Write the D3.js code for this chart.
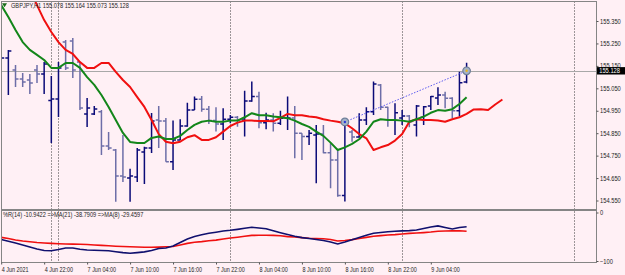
<!DOCTYPE html>
<html>
<head>
<meta charset="utf-8">
<script src="https://cdn.jsdelivr.net/npm/d3@7"></script>
<style>
  html, body { margin: 0; padding: 0; background: #fff0f5; }
  svg { display: block; font-family: "Liberation Sans", Arial, sans-serif; }
</style>
</head>
<body>
<svg id="chart" width="625" height="275"></svg>
<script>
var svgWidth = 625;
var svgHeight = 275;

// GBPJPY H1 bars, 4 Jun 16:00 .. 9 Jun 09:00
var barOpen = [155.052,155.185,155.132,155.092,155.087,155.132,155.114,154.996,155.002,155.256,
  155.261,155.167,154.936,154.936,154.945,154.793,154.775,154.659,154.650,154.655,
  154.766,154.784,154.909,154.904,154.723,154.820,154.882,154.953,155.001,154.957,
  154.906,154.891,154.912,154.921,154.909,154.994,155.013,154.897,154.909,154.894,
  154.917,154.918,154.850,154.835,154.842,154.846,154.763,154.731,154.572,154.855,
  154.833,154.909,154.946,155.065,154.966,154.909,154.918,154.927,154.887,154.921,
  154.971,155.007,155.020,155.006,154.950,155.078];
var barHigh = [155.421,155.221,155.154,155.118,155.114,155.154,155.167,155.105,155.167,155.265,
  155.274,155.167,155.007,154.971,154.953,154.855,154.780,154.842,154.691,154.784,
  154.789,154.940,154.971,154.918,154.906,154.912,154.986,155.013,155.016,154.971,
  154.966,154.961,154.931,154.927,155.039,155.080,155.035,154.941,154.939,154.950,
  155.013,154.971,154.850,154.864,154.887,154.887,154.805,154.775,154.909,154.864,
  154.939,154.966,155.080,155.069,154.968,154.983,154.953,154.931,154.976,154.971,
  155.016,155.055,155.035,155.010,155.124,155.164];
var barLow = [155.020,155.020,155.056,155.056,155.025,155.074,155.025,154.806,154.922,155.132,
  155.096,154.953,154.878,154.931,154.753,154.775,154.544,154.633,154.544,154.633,
  154.624,154.762,154.784,154.723,154.686,154.820,154.879,154.953,154.946,154.891,
  154.857,154.820,154.894,154.879,154.835,154.990,154.872,154.867,154.857,154.887,
  154.864,154.738,154.731,154.797,154.627,154.761,154.605,154.567,154.545,154.812,
  154.830,154.887,154.931,154.953,154.879,154.842,154.887,154.876,154.835,154.887,
  154.953,154.976,154.961,154.917,154.924,155.073];
var barClose = [155.185,155.216,155.092,155.078,155.074,155.114,155.158,155.002,155.141,155.141,
  155.132,154.962,154.962,154.958,154.793,154.784,154.659,154.655,154.659,154.775,
  154.784,154.904,154.904,154.723,154.820,154.882,154.953,155.001,154.957,154.906,
  154.891,154.912,154.921,154.909,154.994,155.013,154.897,154.909,154.894,154.917,
  154.918,154.850,154.835,154.850,154.846,154.763,154.731,154.572,154.901,154.833,
  154.909,154.946,155.069,154.966,154.909,154.941,154.927,154.901,154.971,154.968,
  155.013,155.020,155.006,154.950,155.075,155.128];

// moving averages on the price pane (red one is drawn shifted forward)
var maGreen = [155.421,155.368,155.310,155.256,155.221,155.199,155.176,155.141,155.141,155.163,
  155.163,155.141,155.100,155.065,155.020,154.967,154.909,154.851,154.811,154.806,
  154.806,154.829,154.835,154.824,154.824,154.838,154.864,154.887,154.901,154.906,
  154.901,154.901,154.906,154.906,154.921,154.939,154.930,154.930,154.924,154.921,
  154.917,154.906,154.891,154.878,154.857,154.838,154.808,154.775,154.787,154.802,
  154.823,154.857,154.901,154.912,154.909,154.909,154.906,154.901,154.912,154.924,
  154.941,154.953,154.950,154.957,154.980,155.010];
var maRed = [null,null,null,null,155.488,155.421,155.354,155.301,155.256,155.221,
  155.203,155.167,155.141,155.141,155.163,155.163,155.123,155.087,155.056,155.011,
  154.967,154.909,154.846,154.812,154.805,154.812,154.832,154.841,154.820,154.820,
  154.832,154.857,154.882,154.897,154.906,154.906,154.904,154.904,154.903,154.918,
  154.936,154.930,154.930,154.924,154.921,154.912,154.906,154.901,154.894,154.872,
  154.846,154.827,154.775,154.787,154.797,154.817,154.846,154.901,154.912,154.909,
  154.909,154.907,154.901,154.912,154.921,154.936,154.956,154.957,154.953,154.978,
  155.000];

// %R(14) smoothed, sub window
var wprMa8 = [-55.7,-59.4,-62.9,-67.0,-71.1,-75.3,-78.4,-78.8,-76.3,-73.2,
  -73.2,-75.9,-77.3,-77.9,-78.4,-79.0,-80.8,-82.7,-84.1,-82.7,
  -81.2,-78.4,-74.2,-73.2,-69.1,-61.9,-54.6,-49.5,-46.0,-42.9,
  -40.6,-38.1,-36.7,-34.8,-32.6,-30.5,-32.0,-33.4,-37.7,-41.7,
  -45.4,-49.1,-51.8,-53.6,-55.7,-57.7,-60.8,-65.0,-60.8,-56.1,
  -51.6,-47.0,-42.9,-41.2,-39.8,-38.8,-37.9,-37.3,-36.1,-33.0,
  -29.9,-27.6,-30.9,-34.0,-30.9,-29.46];
var wprMa21 = [-51.3,-53.6,-56.7,-58.8,-60.4,-61.9,-62.9,-63.7,-64.3,-65.0,
  -65.2,-65.4,-66.0,-67.0,-67.8,-68.7,-69.5,-70.1,-70.5,-71.1,
  -71.6,-71.8,-71.3,-70.7,-70.1,-67.0,-63.7,-61.2,-60.0,-58.4,
  -56.9,-54.6,-52.6,-50.9,-49.1,-47.2,-47.0,-47.0,-47.2,-48.0,
  -49.7,-50.5,-51.8,-53.0,-53.6,-54.2,-55.7,-58.8,-57.7,-55.9,
  -53.6,-51.3,-49.1,-47.6,-46.4,-45.6,-44.3,-43.1,-42.3,-41.4,
  -40.2,-38.6,-38.1,-37.9,-37.7,-38.79];

var priceTicks = [154.55,154.65,154.75,154.85,154.95,155.05,155.15,155.25,155.35];
var wprTicks = [0, -100];
var timeLabels = ["4 Jun 2021","4 Jun 22:00","7 Jun 04:00","7 Jun 10:00","7 Jun 16:00","7 Jun 22:00",
  "8 Jun 04:00","8 Jun 10:00","8 Jun 16:00","8 Jun 22:00","9 Jun 04:00"];
var timeLabelBars = [0,6,12,18,24,30,36,42,48,54,60];
var separatorBars = [7,8,32,56,80];
var bidPrice = 155.128;
var tradeMarks = [{bar: 48, price: 154.900}, {bar: 65, price: 155.128}];
var titleText = "GBPJPY,H1 155.078 155.164 155.073 155.128";
var subTitleText = "%R(14) -10.9422 =>MA(21) -38.7909 =>MA(8) -29.4597";

var pane = {left: 1.5, right: 596.5, top: 1.5, mainBottom: 209.5, subTop: 210.5, subBottom: 262.5};
var textColor = "#1e1e1e";
var fontSize = 6.4;

var svg = d3.select("#chart");
svg.append("rect").attr("width", svgWidth).attr("height", svgHeight).attr("fill", "#fff0f5");

var x = d3.scaleLinear().domain([0, 80]).range([1.2, 574]);
var y = d3.scaleLinear().domain([154.55, 155.35]).range([200.5, 21]);
var yInd = d3.scaleLinear().domain([-100, 0]).range([261, 212.5]);

// squeeze text a bit, the terminal font is narrower
function squeeze(sel, k) {
  sel.each(function() {
    var w = this.getComputedTextLength();
    d3.select(this).attr("textLength", w * k).attr("lengthAdjust", "spacingAndGlyphs");
  });
}

var defs = svg.append("defs");
defs.append("clipPath").attr("id", "clipMain").append("rect")
  .attr("x", pane.left).attr("y", pane.top)
  .attr("width", pane.right - pane.left).attr("height", pane.mainBottom - pane.top);
defs.append("clipPath").attr("id", "clipSub").append("rect")
  .attr("x", pane.left).attr("y", pane.subTop)
  .attr("width", pane.right - pane.left).attr("height", pane.subBottom - pane.subTop);

// day separators
svg.append("g").selectAll("line")
  .data(separatorBars)
  .enter().append("line")
  .attr("x1", d => Math.round(x(d)) + 0.5)
  .attr("x2", d => Math.round(x(d)) + 0.5)
  .attr("y1", pane.top)
  .attr("y2", pane.subBottom)
  .attr("stroke", "#3a3a3a")
  .attr("stroke-width", 1)
  .attr("stroke-dasharray", "1,2");

// bid line
svg.append("line")
  .attr("x1", pane.left).attr("x2", pane.right)
  .attr("y1", Math.round(y(bidPrice)) + 0.5).attr("y2", Math.round(y(bidPrice)) + 0.5)
  .attr("stroke", "#a8a8a8").attr("stroke-width", 1);

var mainGroup = svg.append("g").attr("clip-path", "url(#clipMain)");

// OHLC bars
var bars = mainGroup.selectAll(".bar")
  .data(d3.range(barOpen.length))
  .enter().append("g")
  .attr("class", "bar")
  .attr("stroke", i => barClose[i] >= barOpen[i] ? "#0b0b78" : "#6d6ea8")
  .attr("stroke-width", 1.5);

bars.append("line")
  .attr("x1", i => x(i)).attr("x2", i => x(i))
  .attr("y1", i => y(barHigh[i])).attr("y2", i => y(barLow[i]));
bars.append("line")
  .attr("x1", i => x(i) - 3).attr("x2", i => x(i))
  .attr("y1", i => y(barOpen[i])).attr("y2", i => y(barOpen[i]));
bars.append("line")
  .attr("x1", i => x(i)).attr("x2", i => x(i) + 3)
  .attr("y1", i => y(barClose[i])).attr("y2", i => y(barClose[i]));

var maLine = d3.line()
  .defined(d => d != null)
  .x((d, i) => x(i))
  .y(d => y(d));

mainGroup.append("path")
  .attr("d", maLine(maRed))
  .attr("fill", "none")
  .attr("stroke", "#f01010")
  .attr("stroke-width", 2)
  .attr("stroke-linejoin", "round");

mainGroup.append("path")
  .attr("d", maLine(maGreen))
  .attr("fill", "none")
  .attr("stroke", "#13861a")
  .attr("stroke-width", 2)
  .attr("stroke-linejoin", "round");

// trend line between the two marks
mainGroup.append("line")
  .attr("x1", x(tradeMarks[0].bar)).attr("y1", y(tradeMarks[0].price))
  .attr("x2", x(tradeMarks[1].bar)).attr("y2", y(tradeMarks[1].price))
  .attr("stroke", "#5a5af0")
  .attr("stroke-width", 1)
  .attr("stroke-dasharray", "1.5,1.5");

var marks = mainGroup.selectAll(".mark")
  .data(tradeMarks)
  .enter().append("g")
  .attr("transform", d => `translate(${x(d.bar)}, ${y(d.price)})`);
marks.append("circle")
  .attr("r", 3.8)
  .attr("fill", "#a6b3c8")
  .attr("stroke", "#6f7f99")
  .attr("stroke-width", 1.2);
marks.append("circle")
  .attr("r", 1.2)
  .attr("fill", (d, i) => i == 0 ? "#2b39d6" : "#e6b422");

// indicator window
var subGroup = svg.append("g").attr("clip-path", "url(#clipSub)");
var indLine = d3.line()
  .x((d, i) => x(i))
  .y(d => yInd(d));

subGroup.append("path")
  .attr("d", indLine(wprMa21))
  .attr("fill", "none")
  .attr("stroke", "#f01010")
  .attr("stroke-width", 1.6);
subGroup.append("path")
  .attr("d", indLine(wprMa8))
  .attr("fill", "none")
  .attr("stroke", "#10106e")
  .attr("stroke-width", 1.6);

// pane borders
svg.append("rect")
  .attr("x", pane.left).attr("y", pane.top)
  .attr("width", pane.right - pane.left).attr("height", pane.mainBottom - pane.top)
  .attr("fill", "none").attr("stroke", "#858585");
svg.append("rect")
  .attr("x", pane.left).attr("y", pane.subTop)
  .attr("width", pane.right - pane.left).attr("height", pane.subBottom - pane.subTop)
  .attr("fill", "none").attr("stroke", "#858585");

// right price axis
var priceAxis = svg.append("g")
  .attr("transform", `translate(${pane.right}, 0)`)
  .call(d3.axisRight(y).tickValues(priceTicks).tickSize(2).tickPadding(1.5).tickFormat(d3.format(".3f")));
priceAxis.select(".domain").remove();
priceAxis.selectAll("line").attr("stroke", "#555");
priceAxis.selectAll("text").attr("font-size", fontSize).attr("fill", textColor)
  .attr("font-family", "Liberation Sans, Arial, sans-serif");
squeeze(priceAxis.selectAll("text"), 0.9);

var wprAxis = svg.append("g")
  .attr("transform", `translate(${pane.right}, 0)`)
  .call(d3.axisRight(yInd).tickValues(wprTicks).tickSize(2).tickPadding(1.5).tickFormat(d3.format("d")));
wprAxis.select(".domain").remove();
wprAxis.selectAll("line").attr("stroke", "#555");
wprAxis.selectAll("text").attr("font-size", fontSize).attr("fill", textColor)
  .attr("font-family", "Liberation Sans, Arial, sans-serif");
squeeze(wprAxis.selectAll("text"), 0.9);

// bid price box
var bidY = y(bidPrice);
svg.append("rect")
  .attr("x", 597).attr("y", bidY - 3.7)
  .attr("width", 28).attr("height", 7.4)
  .attr("fill", "#000");
var bidText = svg.append("text")
  .attr("x", 599.2).attr("y", bidY)
  .attr("dy", "0.34em")
  .attr("font-size", fontSize)
  .attr("fill", "#fff")
  .text(d3.format(".3f")(bidPrice));
squeeze(bidText, 0.9);

// time axis
var timeAxis = svg.append("g")
  .attr("transform", `translate(0, ${pane.subBottom})`)
  .call(d3.axisBottom(x).tickValues(timeLabelBars).tickSize(2).tickPadding(3)
    .tickFormat((d, i) => timeLabels[i]));
timeAxis.select(".domain").remove();
timeAxis.selectAll("line").attr("stroke", "#555");
timeAxis.selectAll("text")
  .attr("text-anchor", "start")
  .attr("font-size", fontSize)
  .attr("fill", textColor)
  .attr("font-family", "Liberation Sans, Arial, sans-serif");
squeeze(timeAxis.selectAll("text"), 0.85);

// titles
svg.append("path")
  .attr("d", "M2,3.2 L7,3.2 L4.5,7.2 Z")
  .attr("fill", "#1b6b1b");
var title = svg.append("text")
  .attr("x", 11).attr("y", 7.6)
  .attr("font-size", fontSize)
  .attr("fill", textColor)
  .text(titleText);
squeeze(title, 0.88);

var subTitle = svg.append("text")
  .attr("x", 3).attr("y", 217.4)
  .attr("font-size", fontSize)
  .attr("fill", textColor)
  .text(subTitleText);
squeeze(subTitle, 0.88);
</script>
</body>
</html>
